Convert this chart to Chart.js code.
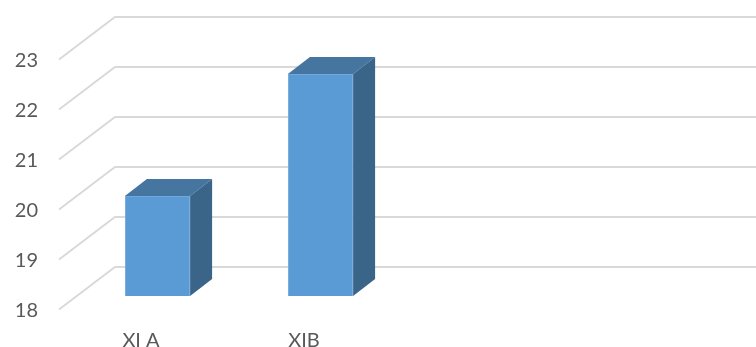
<!DOCTYPE html>
<html>
<head>
<meta charset="utf-8">
<style>html,body{margin:0;padding:0;background:#fff;overflow:hidden}canvas{display:block}</style>
<script src="https://cdn.jsdelivr.net/npm/chart.js@4"></script>
</head>
<body>
<canvas id="c" width="756" height="347"></canvas>
<script>
const categories = ["XI A", "XIB", "", ""];
const seriesValues = [20, 22.44, null, null];
const axisMin = 18;
const axisMax = 23;
const axisStep = 1;

const fontFamily = "Lato, Carlito, 'Open Sans', sans-serif";
const barDepth = { dx: 22, dy: 17 };

const perspective = {
  id: 'perspective',
  beforeDatasetsDraw(chart) {
    const { ctx, chartArea, scales } = chart;
    ctx.save();
    ctx.strokeStyle = '#D9D9D9';
    ctx.lineCap = 'butt';
    ctx.lineJoin = 'miter';
    scales.y.ticks.forEach(t => {
      const py = scales.y.getPixelForValue(t.value);
      ctx.lineWidth = 2;
      ctx.beginPath();
      ctx.moveTo(chartArea.left - 17, py + 13.5);
      ctx.lineTo(chartArea.left + 39, py - 29);
      ctx.lineTo(chartArea.right + 28, py - 29);
      ctx.stroke();
    });
    ctx.restore();
  },
  afterDatasetsDraw(chart) {
    const { ctx } = chart;
    const { dx, dy } = barDepth;
    ctx.save();
    chart.getDatasetMeta(0).data.forEach((bar, i) => {
      if (seriesValues[i] === null) return;
      const p = bar.getProps(['x', 'y', 'base', 'width'], true);
      const l = p.x - p.width / 2, r = p.x + p.width / 2, t = p.y, b = p.base;
      ctx.fillStyle = '#4675A0';
      ctx.beginPath();
      ctx.moveTo(l, t); ctx.lineTo(l + dx, t - dy); ctx.lineTo(r + dx, t - dy); ctx.lineTo(r, t);
      ctx.closePath(); ctx.fill();
      ctx.fillStyle = '#3A6589';
      ctx.beginPath();
      ctx.moveTo(r, t); ctx.lineTo(r + dx, t - dy); ctx.lineTo(r + dx, b - dy); ctx.lineTo(r, b);
      ctx.closePath(); ctx.fill();
    });
    ctx.restore();
  }
};

new Chart(document.getElementById('c'), {
  type: 'bar',
  data: {
    labels: categories,
    datasets: [{
      data: seriesValues,
      base: axisMin,
      backgroundColor: '#5B9BD5',
      borderColor: '#6FA8DC',
      borderWidth: 1,
      barPercentage: 0.4,
      categoryPercentage: 1
    }]
  },
  plugins: [perspective],
  options: {
    responsive: false,
    animation: false,
    devicePixelRatio: 1,
    layout: { padding: { top: 46, right: 28, left: 0, bottom: 0 } },
    plugins: { legend: { display: false }, title: { display: false }, tooltip: { enabled: false } },
    scales: {
      x: {
        grid: { display: false, drawTicks: false },
        border: { display: false },
        afterFit(s) { s.height = 51; },
        ticks: {
          autoSkip: false, maxRotation: 0, minRotation: 0,
          padding: 33, labelOffset: -16.5,
          color: '#595959',
          font: { family: fontFamily, size: 20 }
        }
      },
      y: {
        min: axisMin,
        max: axisMax,
        grid: { display: false, drawTicks: false },
        border: { display: false },
        afterFit(s) { s.width = 76; s.paddingTop = 0; s.paddingBottom = 0; },
        ticks: {
          stepSize: axisStep,
          padding: 38, labelOffset: 15,
          color: '#595959',
          font: { family: fontFamily, size: 20 }
        }
      }
    }
  }
});
</script>
</body>
</html>
